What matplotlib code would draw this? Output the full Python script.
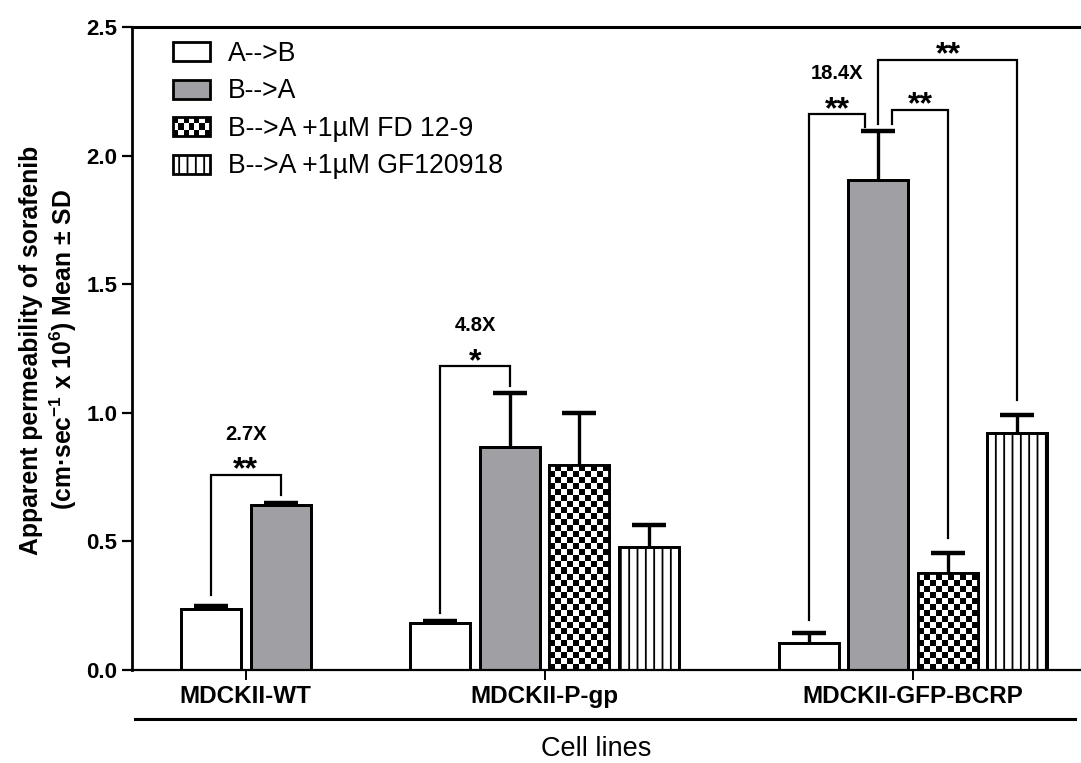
import numpy as np
import matplotlib
matplotlib.use("Agg")
import matplotlib.pyplot as plt
from matplotlib.patches import Rectangle, Patch
from matplotlib.legend_handler import HandlerBase
from matplotlib.lines import Line2D

plt.rcParams['font.family'] = ['Liberation Sans', 'DejaVu Sans']
plt.rcParams['mathtext.fontset'] = 'custom'
plt.rcParams['mathtext.rm'] = 'Liberation Sans:bold'
plt.rcParams['mathtext.default'] = 'rm'
plt.rcParams['hatch.linewidth'] = 1.3

# ---------------- data ----------------
cell_lines = ["MDCKII-WT", "MDCKII-P-gp", "MDCKII-GFP-BCRP"]
series = ["A-->B", "B-->A", "B-->A +1µM FD 12-9", "B-->A +1µM GF120918"]

wt_mean = [0.237, 0.641]
wt_sd = [0.012, 0.009]
pgp_mean = [0.183, 0.866, 0.798, 0.478]
pgp_sd = [0.009, 0.211, 0.201, 0.084]
bcrp_mean = [0.105, 1.904, 0.376, 0.922]
bcrp_sd = [0.040, 0.190, 0.078, 0.071]

fold_labels = ["2.7X", "4.8X", "18.4X"]
yticks = [0.0, 0.5, 1.0, 1.5, 2.0, 2.5]

# ---------------- layout ----------------
W, H = 1081, 763
fig = plt.figure(figsize=(W / 100, H / 100), dpi=100)
ax = fig.add_axes([132 / W, 1 - 670 / H, (1080 - 132) / W, (670 - 27) / H])

step = 1.0
group_gap = 1.3
bar_w = 0.863
gray = "#A0A0A4"

groups = [(wt_mean, wt_sd), (pgp_mean, pgp_sd), (bcrp_mean, bcrp_sd)]
positions = []
start = 0.0
for means, _ in groups:
    positions.append([start + i * step for i in range(len(means))])
    start = positions[-1][-1] + step + group_gap
group_centers = [np.mean(p) for p in positions]

styles = [
    dict(facecolor="white", hatch=None),
    dict(facecolor=gray, hatch=None),
    dict(facecolor="white", hatch=None),   # checker via image
    dict(facecolor="white", hatch="||"),
]

cell_x = bar_w / 10.0
cell_y = 6.0 / 256.8

for (means, sds), pos in zip(groups, positions):
    for k, (m, s, x) in enumerate(zip(means, sds, pos)):
        st = styles[k]
        b = ax.bar(x, m, width=bar_w, color=st["facecolor"], edgecolor="black",
                   linewidth=2.0, hatch=st["hatch"], zorder=2)
        if k == 2:
            patch = b.patches[0]
            ny = int(np.ceil(m / cell_y)) + 1
            checker = (np.add.outer(np.arange(ny), np.arange(10)) % 2).astype(float)
            im = ax.imshow(checker, cmap="gray", vmin=0, vmax=1, origin="lower",
                           extent=(x - bar_w / 2, x - bar_w / 2 + 10 * cell_x, 0, ny * cell_y),
                           aspect="auto", interpolation="nearest", zorder=2.2)
            im.set_clip_path(patch)
        ax.bar(x, m, width=bar_w, fill=False, edgecolor="black", linewidth=2.0, zorder=3)
        eb = ax.errorbar([x], [m], yerr=[[0], [s]], fmt="none", ecolor="black",
                         elinewidth=2.4, capsize=12, capthick=3.2, zorder=4)
        eb.lines[1][0].set_visible(False)

# ---------------- significance brackets ----------------
# (x_left, x_right, y_top, y_left_bottom, y_right_bottom, stars)
P = positions
brackets = [
    (P[0][0], P[0][1], 0.759, 0.292, 0.681, "**"),
    (P[1][0], P[1][1], 1.181, 0.222, 1.106, "*"),
    (P[2][0], P[2][1] - 0.19, 2.161, 0.195, 2.113, "**"),
    (P[2][1] + 0.20, P[2][2], 2.178, 2.122, 0.513, "**"),
    (P[2][1], P[2][3], 2.373, 2.122, 1.051, "**"),
]
for x1, x2, yt, y1, y2, stars in brackets:
    ax.plot([x1, x1, x2, x2], [y1, yt, yt, y2], color="black", lw=1.6,
            clip_on=False, zorder=5, solid_joinstyle="miter")
    ax.text((x1 + x2) / 2, yt - 0.014, stars, ha="center", va="baseline",
            fontsize=23, fontweight="bold", zorder=6)

for lab, (x1, x2, yt, _, _, _) in zip(fold_labels, brackets[:3]):
    ax.text((x1 + x2) / 2, yt + 0.158, lab, ha="center", va="center",
            fontsize=14.5, fontweight="bold")

# ---------------- axes styling ----------------
ax.set_xlim(-1.137, 12.5)
ax.set_ylim(0, 2.5)
ax.set_yticks(yticks)
ax.set_yticklabels([f"{v:.1f}" for v in yticks], fontsize=16, fontweight="bold")
ax.set_xticks(group_centers)
ax.set_xticklabels(cell_lines, fontsize=17.5, fontweight="bold")
ax.tick_params(axis="y", length=7, width=1.6, pad=3.5)
ax.tick_params(axis="x", length=7, width=1.4, pad=3.5)
ax.spines["right"].set_visible(False)
ax.spines["left"].set_linewidth(2.0)
ax.spines["bottom"].set_linewidth(1.6)
ax.spines["top"].set_linewidth(2.2)

fig.text(49 / W, 1 - 350 / H,
         "Apparent permeability of sorafenib\n(cm·sec$^{-1}$ x 10$^{6}$) Mean ± SD",
         rotation=90, ha="center", va="center", multialignment="center",
         fontsize=17.8, fontweight="bold", linespacing=1.15)

fig.add_artist(Line2D([135 / W, 1075 / W], [1 - 719 / H, 1 - 719 / H],
                      color="black", lw=2.2))
fig.text(596 / W, 1 - 749 / H, "Cell lines", ha="center", va="center", fontsize=19.5)

# ---------------- legend ----------------
class CheckerHandler(HandlerBase):
    def create_artists(self, legend, orig_handle, xdescent, ydescent,
                       width, height, fontsize, trans):
        arts = [Rectangle((-xdescent, -ydescent), width, height,
                          facecolor="white", edgecolor="none", transform=trans)]
        nx, ny = 7, 3
        cw, ch = width / nx, height / ny
        for i in range(nx):
            for j in range(ny):
                if (i + j) % 2 == 0:
                    arts.append(Rectangle((-xdescent + i * cw, -ydescent + j * ch), cw, ch,
                                          facecolor="black", edgecolor="none", transform=trans))
        arts.append(Rectangle((-xdescent, -ydescent), width, height,
                              facecolor="none", edgecolor="black", lw=2.0, transform=trans))
        return arts

h0 = Patch(facecolor="white", edgecolor="black", lw=2.0)
h1 = Patch(facecolor=gray, edgecolor="black", lw=2.0)
h2 = Patch(facecolor="white", edgecolor="black", lw=2.0)
h3 = Patch(facecolor="white", edgecolor="black", lw=2.0, hatch="||")
leg = ax.legend([h0, h1, h2, h3], series, handler_map={h2: CheckerHandler()},
                loc="upper left", bbox_to_anchor=((173 - 132) / 948, 1 - (41 - 27) / 643),
                frameon=False, fontsize=19.2, handlelength=1.38, handleheight=0.72,
                handletextpad=0.68, labelspacing=0.43, borderpad=0, borderaxespad=0)

fig.savefig("out.png", dpi=100)
